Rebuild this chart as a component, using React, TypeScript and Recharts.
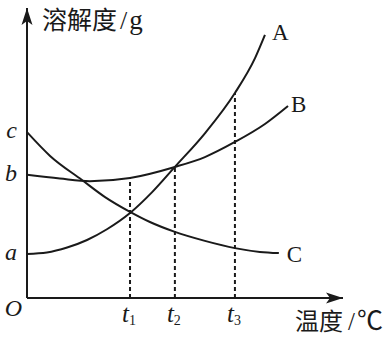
import React from 'react';
import { ComposedChart, Line, XAxis, YAxis, ReferenceLine, ReferenceDot } from 'recharts';

// Temperature (x) and solubility (y) readings for the three curves
const tempA = [0, 6.3, 12.7, 19, 25.3, 32.6, 39.6, 46.8, 56.3, 65.8, 72.2, 75.3];
const solA = [15.2, 15.7, 17.4, 20, 23.7, 29.3, 36.5, 45.2, 56.8, 70.7, 82.8, 90.7];

const tempB = [0, 10.4, 19.9, 32.6, 46.8, 56.3, 65.8, 75.3, 82.6];
const solB = [42.5, 41.2, 40.3, 41.4, 45.2, 48.6, 53.8, 60, 66.2];

const tempC = [0, 7.3, 17.4, 24.7, 32.6, 38.9, 46.8, 56.3, 65.8, 73.7, 79.7];
const solC = [57.2, 49.0, 40.7, 34.8, 29.7, 26.2, 22.8, 19.7, 17.2, 15.9, 15.5];

const tTicks = [32.6, 46.8, 65.8];
const tSubs = ['1', '2', '3'];
const dashTops = [41.4, 45.2, 70.7];

const yTicks = [0, 15.2, 42.5, 57.2];
const yLabels = ['O', 'a', 'b', 'c'];

const curveNames = ['A', 'B', 'C'];

const toRows = (xs: number[], ys: number[]) => xs.map((x, i) => ({ x, y: ys[i] }));
const rowsA = toRows(tempA, solA);
const rowsB = toRows(tempB, solB);
const rowsC = toRows(tempC, solC);
const series = [rowsA, rowsB, rowsC];

const INK = '#1a1a1a';
const SERIF = '"Liberation Serif", "Noto Sans CJK SC", serif';
const CJK = '"Noto Sans CJK SC", "Liberation Serif", serif';

const nameOffsets = [
  { dx: 7, dy: 5 },
  { dx: 3, dy: 6 },
  { dx: 8, dy: 9 },
];

const XTick = (props: any) => {
  const { x, y, index } = props;
  return (
    <text x={x - 8} y={y + 24} textAnchor="start" fill={INK} fontFamily={SERIF} fontSize={25}>
      <tspan fontStyle="italic">t</tspan>
      <tspan fontSize={14} dy={3}>{tSubs[index]}</tspan>
    </text>
  );
};

const YTick = (props: any) => {
  const { x, y, index } = props;
  const isO = yLabels[index] === 'O';
  return (
    <text
      x={isO ? x - 5 : x - 10}
      y={isO ? y + 18 : y + 6}
      textAnchor="end"
      fill={INK}
      fontFamily={SERIF}
      fontStyle="italic"
      fontSize={24}
    >
      {yLabels[index]}
    </text>
  );
};

const XArrow = (props: any) => {
  const { cx, cy } = props;
  return (
    <g>
      <path d={`M${cx},${cy} L${cx - 17},${cy - 5.5} L${cx - 13},${cy} L${cx - 17},${cy + 5.5} Z`} fill={INK} />
      <text x={cx - 48} y={cy + 32} fill={INK} fontFamily={CJK} fontSize={24}>
        <tspan>温度</tspan>
        <tspan dx={5} fontFamily={SERIF} fontSize={25}>/</tspan>
        <tspan dx={2} fontSize={26}>℃</tspan>
      </text>
    </g>
  );
};

const YArrow = (props: any) => {
  const { cx, cy } = props;
  return (
    <g>
      <path d={`M${cx},${cy} L${cx - 5.5},${cy + 17} L${cx},${cy + 13} L${cx + 5.5},${cy + 17} Z`} fill={INK} />
      <text x={cx + 15} y={cy + 21} fill={INK} fontFamily={CJK} fontSize={25}>
        <tspan>溶解度</tspan>
        <tspan dx={3} fontFamily={SERIF} fontSize={26}>/</tspan>
        <tspan dx={2} fontFamily={SERIF} fontSize={27}>g</tspan>
      </text>
    </g>
  );
};

export default function App() {
  return (
    <div style={{ position: 'absolute', left: 0, top: 0, background: '#fff' }}>
      <ComposedChart width={390} height={338} margin={{ top: 8, right: 47, bottom: 0, left: 0 }}>
        <XAxis
          type="number"
          dataKey="x"
          domain={[0, 100]}
          ticks={tTicks}
          tick={<XTick />}
          tickLine={false}
          tickSize={0}
          tickMargin={0}
          height={40}
          axisLine={{ stroke: INK, strokeWidth: 2 }}
          allowDataOverflow
        />
        <YAxis
          type="number"
          dataKey="y"
          domain={[0, 100]}
          ticks={yTicks}
          tick={<YTick />}
          tickLine={false}
          tickSize={0}
          tickMargin={0}
          width={27}
          axisLine={{ stroke: INK, strokeWidth: 2 }}
          allowDataOverflow
        />
        {tTicks.map((t, i) => (
          <ReferenceLine
            key={'d' + i}
            segment={[{ x: t, y: 0 }, { x: t, y: dashTops[i] }]}
            stroke={INK}
            strokeWidth={2}
            strokeDasharray="4 3"
          />
        ))}
        {series.map((rows, i) => (
          <Line
            key={curveNames[i]}
            data={rows}
            dataKey="y"
            type="monotone"
            stroke={INK}
            strokeWidth={2}
            dot={false}
            activeDot={false}
            isAnimationActive={false}
          />
        ))}
        {series.map((rows, i) => {
          const last = rows[rows.length - 1];
          const off = nameOffsets[i];
          return (
            <ReferenceDot
              key={'n' + i}
              x={last.x}
              y={last.y}
              r={0}
              shape={(p: any) => (
                <text x={p.cx + off.dx} y={p.cy + off.dy} fill={INK} fontFamily={SERIF} fontSize={23}>
                  {curveNames[i]}
                </text>
              )}
            />
          );
        })}
        <ReferenceDot x={100} y={0} r={0} shape={(p: any) => <XArrow {...p} />} />
        <ReferenceDot x={0} y={100} r={0} shape={(p: any) => <YArrow {...p} />} />
      </ComposedChart>
    </div>
  );
}
